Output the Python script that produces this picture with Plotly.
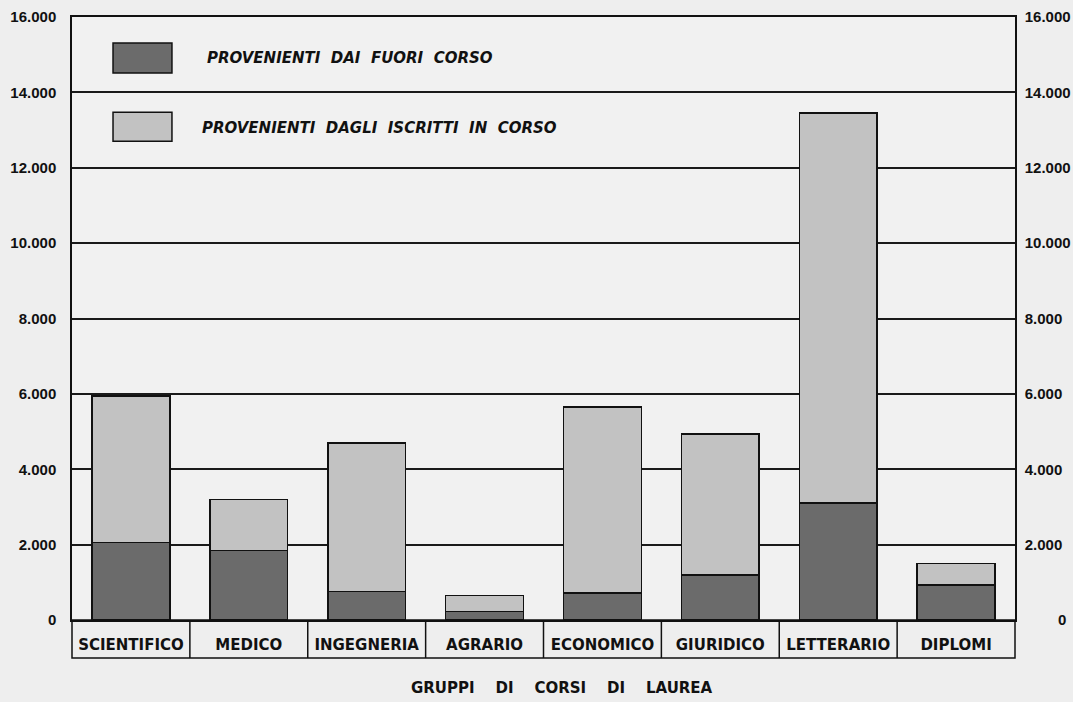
import plotly.graph_objects as go

categories = ["SCIENTIFICO", "MEDICO", "INGEGNERIA", "AGRARIO",
              "ECONOMICO", "GIURIDICO", "LETTERARIO", "DIPLOMI"]
fuori_corso = [2050, 1850, 750, 230, 720, 1200, 3100, 930]
totali = [5950, 3200, 4700, 650, 5650, 4930, 13450, 1500]
in_corso = [t - f for t, f in zip(totali, fuori_corso)]

tick_vals = [0, 2000, 4000, 6000, 8000, 10000, 12000, 14000, 16000]
tick_text = ["0", "2.000", "4.000", "6.000", "8.000", "10.000", "12.000", "14.000", "16.000"]
tick_text_right = ["\u2007\u2007\u2007\u20070"] + tick_text[1:]

legend_labels = ["PROVENIENTI  DAI  FUORI  CORSO", "PROVENIENTI  DAGLI  ISCRITTI  IN  CORSO"]
x_title = "GRUPPI    DI    CORSI    DI    LAUREA"

DARK = "#6b6b6b"
LIGHT = "#c2c2c2"
BG = "#eeeeee"
FONT = "Liberation Sans"
FONT2 = "DejaVu Sans"
INK = "#111111"

fig = go.Figure()
fig.add_trace(go.Bar(x=categories, y=fuori_corso, name=legend_labels[0],
                     marker=dict(color=DARK, line=dict(color=INK, width=1.5)),
                     width=0.66))
fig.add_trace(go.Bar(x=categories, y=in_corso, name=legend_labels[1],
                     marker=dict(color=LIGHT, line=dict(color=INK, width=1.5)),
                     width=0.66))
# invisible trace to activate right axis
fig.add_trace(go.Scatter(x=categories, y=totali, yaxis="y2", mode="markers",
                         marker=dict(opacity=0), hoverinfo="skip", showlegend=False))

shapes = []
# category boxes
shapes.append(dict(type="rect", xref="paper", yref="paper", x0=0, x1=1, y0=-0.063, y1=0,
                   line=dict(color=INK, width=1.5), fillcolor="rgba(0,0,0,0)"))
for i in range(len(categories) - 1):
    shapes.append(dict(type="line", xref="x", yref="paper", x0=i + 0.5, x1=i + 0.5,
                       y0=-0.063, y1=0, line=dict(color=INK, width=1.5)))
# legend boxes
shapes.append(dict(type="rect", xref="paper", yref="paper", x0=0.0435, x1=0.106,
                   y0=0.907, y1=0.957, fillcolor=DARK, line=dict(color=INK, width=1.5)))
shapes.append(dict(type="rect", xref="paper", yref="paper", x0=0.0435, x1=0.106,
                   y0=0.794, y1=0.842, fillcolor=LIGHT, line=dict(color=INK, width=1.5)))

annotations = [
    dict(text="<b><i>" + legend_labels[0] + "</i></b>", xref="paper", yref="paper",
         x=0.141, y=0.932, xanchor="left", yanchor="middle", showarrow=False,
         font=dict(family=FONT2, size=15, color=INK)),
    dict(text="<b><i>" + legend_labels[1] + "</i></b>", xref="paper", yref="paper",
         x=0.136, y=0.816, xanchor="left", yanchor="middle", showarrow=False,
         font=dict(family=FONT2, size=15, color=INK)),
    dict(text=x_title, xref="paper", yref="paper", x=0.52, y=-0.113,
         xanchor="center", yanchor="middle", showarrow=False,
         font=dict(family=FONT2, size=15, color=INK, weight="bold")),
]

fig.update_layout(
    barmode="stack",
    width=1073, height=702,
    margin=dict(l=72, r=58, t=17, b=82, autoexpand=False),
    paper_bgcolor=BG, plot_bgcolor="#f1f1f1",
    showlegend=False,
    shapes=shapes,
    annotations=annotations,
    xaxis=dict(type="category", range=[-0.5, 7.5], showgrid=False, showline=True,
               mirror=True, linecolor=INK, linewidth=1.5, ticks="", automargin=False,
               tickfont=dict(family=FONT2, size=15, color=INK, weight="bold"),
               ticklabelstandoff=10),
    yaxis=dict(range=[0, 16000], tickvals=tick_vals, ticktext=tick_text,
               showgrid=True, gridcolor="#1a1a1a", gridwidth=1.5, automargin=False,
               showline=True, linecolor=INK, linewidth=1.5, zeroline=False,
               ticks="", tickfont=dict(family=FONT, size=15, color=INK, weight="bold"),
               ticklabelstandoff=11),
    yaxis2=dict(overlaying="y", side="right", matches="y", range=[0, 16000],
                tickvals=tick_vals, ticktext=tick_text_right, showgrid=False,
                automargin=False,
                showline=True, linecolor=INK, linewidth=1.5, zeroline=False,
                ticks="", tickfont=dict(family=FONT, size=15, color=INK, weight="bold"),
                ticklabelstandoff=5),
)

fig.write_html("out.html", config={"displayModeBar": False},
               post_script="document.body.style.margin='0';document.body.style.padding='0';")
